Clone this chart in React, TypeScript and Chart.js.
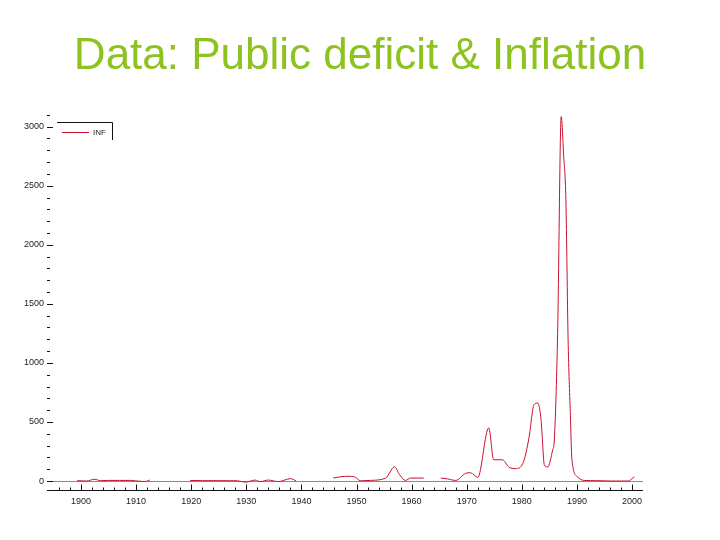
import React, { useEffect, useRef } from "react";
import { Chart, registerables } from "chart.js";

Chart.register(...registerables);

const TITLE = "Data: Public deficit & Inflation";
const SERIES_LABEL = "INF";

// Years (x) and inflation values (y); null marks a gap in the record
const years = [
  1899.3, 1901.0, 1902.5, 1903.5, 1905.0, 1907.0, 1909.0, 1911.5, 1912.5,
  1916.0,
  1919.8, 1922.0, 1925.0, 1928.4, 1929.8, 1931.6, 1932.5, 1934.0, 1935.8, 1938.0, 1939.0,
  1942.0,
  1945.8, 1947.1, 1948.5, 1949.8, 1950.7, 1952.5, 1955.3, 1956.9, 1957.8, 1958.9, 1959.8, 1962.2,
  1964.0,
  1965.3, 1966.5, 1968.0, 1969.8, 1970.7, 1972.0, 1974.0, 1974.9, 1976.5, 1977.6, 1978.9,
  1980.2, 1981.3, 1982.2, 1982.9, 1983.5, 1984.1, 1984.7, 1985.6, 1985.9, 1986.5, 1987.15,
  1987.6, 1988.0, 1988.4, 1988.8, 1989.1, 1990.1, 1991.3, 1993.6, 1996.2, 1999.3, 2000.4,
];
const inflation = [
  3, 0, 15, 3, 5, 5, 5, -5, 8,
  null,
  5, 3, 3, 2, -10, 8, -5, 8, -5, 20, 3,
  null,
  25, 36, 40, 32, 2, 5, 25, 120, 55, 5, 25, 25,
  null,
  25, 18, 5, 65, 70, 30, 450, 180, 180, 120, 105,
  150, 365, 645, 660, 515, 135, 120, 263, 348, 1250, 3085,
  2750, 2380, 1200, 580, 180, 35, 5, 3, 0, 0, 35,
];

const xTickValues = [1900, 1910, 1920, 1930, 1940, 1950, 1960, 1970, 1980, 1990, 2000];
const yTickValues = [0, 500, 1000, 1500, 2000, 2500, 3000];

export default function App() {
  const ref = useRef<HTMLCanvasElement | null>(null);

  useEffect(() => {
    if (!ref.current) return;

    const decor = {
      id: "decor",
      beforeDatasetsDraw(chart: any) {
        const { ctx, chartArea, scales } = chart;
        const y0 = Math.round(scales.y.getPixelForValue(0)) + 0.5;
        ctx.save();
        ctx.strokeStyle = "#8a8a8a";
        ctx.lineWidth = 1;
        ctx.beginPath();
        ctx.moveTo(chartArea.left, y0);
        ctx.lineTo(chartArea.right + 3, y0);
        ctx.stroke();
        ctx.restore();
      },
      afterDraw(chart: any) {
        const { ctx, chartArea, scales } = chart;
        const xs = scales.x;
        const ys = scales.y;
        ctx.save();
        // Title
        ctx.fillStyle = "#8DC21F";
        ctx.font = '44px "Liberation Sans", Arial, sans-serif';
        ctx.textAlign = "center";
        ctx.textBaseline = "alphabetic";
        ctx.fillText(TITLE, 360, 69);

        // X axis line
        const yb = Math.round(chartArea.bottom) + 0.5;
        ctx.strokeStyle = "#111";
        ctx.lineWidth = 1;
        ctx.beginPath();
        ctx.moveTo(chartArea.left, yb);
        ctx.lineTo(chartArea.right + 3, yb);
        ctx.stroke();
        // X ticks every 2 years, taller at decades
        ctx.beginPath();
        for (let yr = 1896; yr <= 2000; yr += 2) {
          const px = Math.round(xs.getPixelForValue(yr)) + 0.5;
          const len = yr % 10 === 0 ? 6 : 3;
          ctx.moveTo(px, yb);
          ctx.lineTo(px, yb - len);
        }
        ctx.stroke();
        // Y ticks every 100, longer at 500s
        ctx.beginPath();
        for (let v = 0; v <= 3100; v += 100) {
          const py = Math.round(ys.getPixelForValue(v)) + 0.5;
          const len = v % 500 === 0 ? 6 : 3;
          ctx.moveTo(chartArea.left, py);
          ctx.lineTo(chartArea.left + len, py);
        }
        ctx.stroke();

        // Legend
        ctx.strokeStyle = "#111";
        ctx.beginPath();
        ctx.moveTo(57, 122.5);
        ctx.lineTo(112.5, 122.5);
        ctx.lineTo(112.5, 140);
        ctx.stroke();
        ctx.strokeStyle = "#C8102E";
        ctx.beginPath();
        ctx.moveTo(62, 132.5);
        ctx.lineTo(89, 132.5);
        ctx.stroke();
        ctx.fillStyle = "#222";
        ctx.font = '8px "Liberation Sans", Arial, sans-serif';
        ctx.textAlign = "left";
        ctx.textBaseline = "middle";
        ctx.fillText(SERIES_LABEL, 93, 133);
        ctx.restore();
      },
    };

    const chart = new Chart(ref.current, {
      type: "line",
      data: {
        datasets: [
          {
            label: SERIES_LABEL,
            data: years.map((x, i) => ({ x, y: inflation[i] })),
            borderColor: "#C8102E",
            borderWidth: 1,
            pointRadius: 0,
            fill: false,
            spanGaps: false,
            cubicInterpolationMode: "monotone",
          },
        ],
      },
      options: {
        responsive: false,
        animation: false,
        layout: { padding: { left: 0, right: 80, top: 103, bottom: 0 } },
        plugins: {
          legend: { display: false },
          title: { display: false },
          tooltip: { enabled: false },
        },
        scales: {
          x: {
            type: "linear",
            min: 1893.83,
            max: 2001.45,
            grid: { display: false, drawTicks: false },
            border: { display: false },
            afterBuildTicks: (scale: any) => {
              scale.ticks = xTickValues.map((v) => ({ value: v }));
            },
            afterFit: (scale: any) => {
              scale.height = 50;
            },
            ticks: {
              autoSkip: false,
              maxRotation: 0,
              padding: 6,
              color: "#222",
              font: { family: '"Liberation Sans", Arial, sans-serif', size: 9 },
              callback: (v: any) => String(v),
            },
          },
          y: {
            type: "linear",
            min: -76,
            max: 3200,
            grid: { display: false, drawTicks: false },
            border: { display: false },
            afterBuildTicks: (scale: any) => {
              scale.ticks = yTickValues.map((v) => ({ value: v }));
            },
            afterFit: (scale: any) => {
              scale.width = 47;
            },
            ticks: {
              padding: 3,
              color: "#222",
              font: { family: '"Liberation Sans", Arial, sans-serif', size: 9 },
              callback: (v: any) => String(v),
            },
          },
        },
      },
      plugins: [decor],
    });

    return () => chart.destroy();
  }, []);

  return (
    <div style={{ position: "fixed", left: 0, top: 0, width: 720, height: 540, background: "#fff" }}>
      <canvas ref={ref} width={720} height={540} style={{ display: "block" }} />
    </div>
  );
}
